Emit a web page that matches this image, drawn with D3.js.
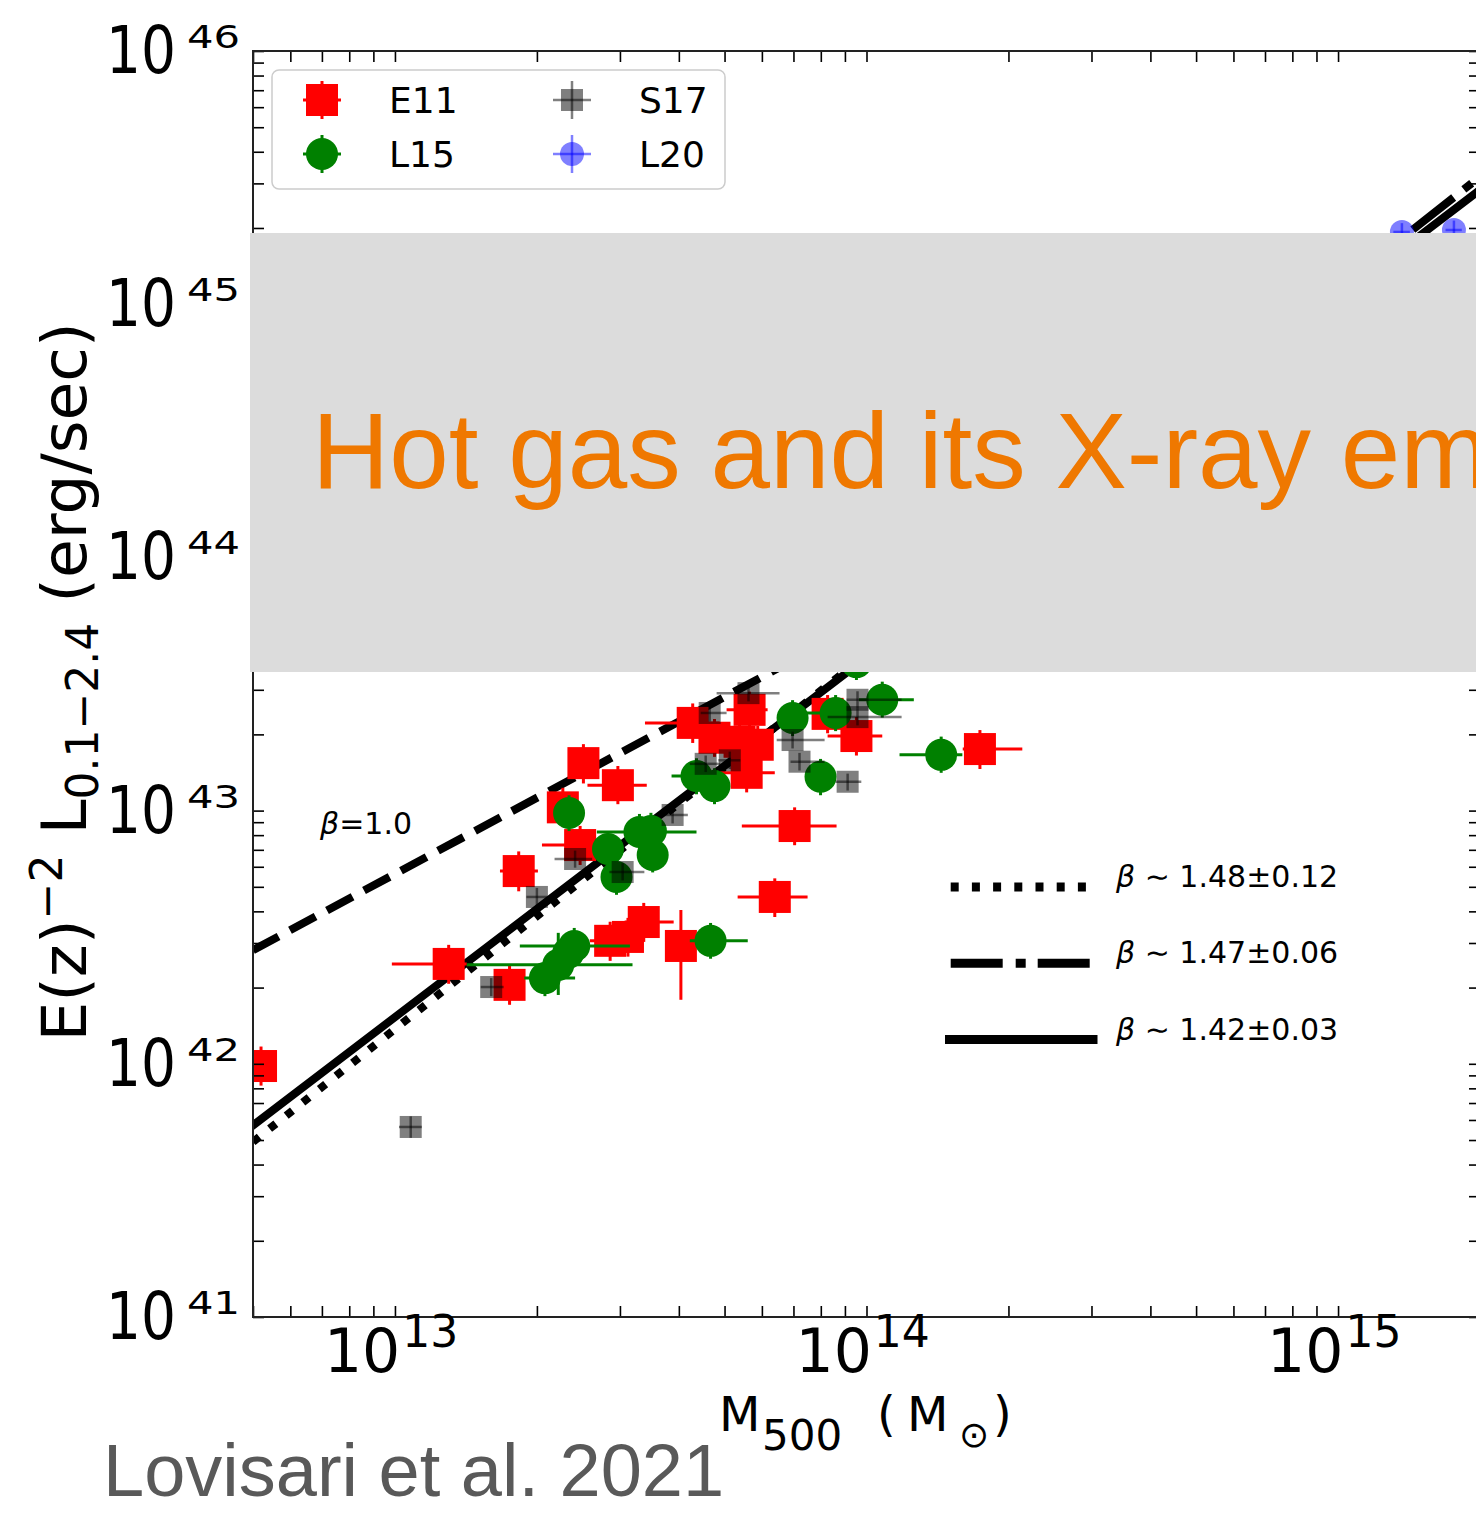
<!DOCTYPE html>
<html>
<head>
<meta charset="utf-8">
<title>Lx - M500</title>
<script src="https://cdn.jsdelivr.net/npm/d3@7/dist/d3.min.js"></script>
<style>
  body { margin: 0; background: #fff; }
  svg { display: block; }
</style>
</head>
<body>
<svg id="chart" width="1476" height="1513"></svg>
<script>
// data: M in 1e13 Msun, L in 1e42 erg/s
// row: [M, L, Mlow, Mhigh, Llow, Lhigh]
const e11 = [
    [4.28, 22.2, 3.39, 4.88, 18.5, 26.5],
    [2.51, 15.4, 2.35, 2.68, 12.8, 18.3],
    [2.97, 12.6, 2.56, 3.42, 10.6, 15.0],
    [2.27, 10.3, 2.12, 2.43, 8.6, 12.3],
    [2.47, 7.31, 2.05, 2.68, 6.1, 8.7],
    [1.83, 5.77, 1.67, 2.01, 4.8, 6.9],
    [1.30, 2.48, 0.985, 1.42, 2.07, 2.95],
    [1.75, 2.05, 1.64, 1.87, 1.71, 2.44],
    [2.86, 3.06, 2.59, 3.05, 2.55, 3.64],
    [3.12, 3.17, 2.95, 3.30, 2.65, 3.77],
    [3.37, 3.63, 3.07, 3.90, 3.03, 4.32],
    [4.04, 2.92, 3.80, 4.28, 1.79, 4.05],
    [0.52, 0.98, 0.49, 0.56, 0.82, 1.17],
    [5.65, 25.0, 5.05, 6.17, 21.0, 29.5],
    [4.76, 19.4, 4.45, 5.10, 16.3, 23.0],
    [5.38, 18.7, 5.05, 5.75, 15.6, 22.2],
    [5.88, 18.2, 5.50, 6.25, 15.2, 21.6],
    [5.57, 14.1, 4.88, 6.39, 11.8, 16.7],
    [8.27, 24.1, 7.80, 8.75, 20.2, 28.6],
    [9.52, 19.7, 8.27, 10.8, 16.5, 23.4],
    [17.4, 17.5, 16.0, 21.4, 14.6, 20.8],
    [7.04, 8.69, 5.44, 8.64, 7.3, 10.3],
    [6.39, 4.56, 5.33, 7.50, 3.8, 5.4]
];
const l15 = [
    [2.34, 9.78, 2.20, 2.48, 8.3, 11.5],
    [2.83, 7.05, 2.65, 3.02, 6.0, 8.3],
    [2.95, 5.47, 2.76, 3.15, 4.65, 6.45],
    [3.30, 8.23, 2.68, 4.36, 7.0, 9.7],
    [3.49, 8.31, 3.27, 3.73, 7.05, 9.8],
    [3.52, 6.68, 3.30, 3.76, 5.7, 7.9],
    [4.36, 13.7, 3.86, 4.88, 11.6, 16.1],
    [2.08, 2.18, 1.88, 2.41, 1.85, 2.57],
    [2.22, 2.46, 1.42, 3.19, 1.87, 3.29],
    [2.33, 2.74, 2.18, 2.49, 2.33, 3.23],
    [2.40, 2.92, 1.84, 3.15, 2.48, 3.44],
    [4.67, 3.06, 4.22, 5.60, 2.6, 3.6],
    [4.76, 12.5, 4.45, 5.10, 10.6, 14.7],
    [6.97, 23.2, 6.52, 7.45, 19.7, 27.3],
    [8.60, 24.3, 7.40, 9.20, 20.6, 28.6],
    [10.8, 27.4, 9.64, 12.6, 23.3, 32.3],
    [7.99, 13.6, 7.47, 8.54, 11.5, 16.0],
    [14.4, 16.6, 11.75, 15.97, 14.1, 19.6],
    [9.52, 38.6, 8.9, 10.2, 32.8, 45.5]
];
const s17 = [
    [1.08, 0.563, 1.02, 1.14, 0.51, 0.62],
    [1.60, 2.01, 1.52, 1.70, 1.85, 2.18],
    [2.00, 4.56, 1.90, 2.10, 4.2, 4.95],
    [2.41, 6.44, 2.18, 2.62, 5.95, 6.95],
    [3.04, 5.72, 2.85, 3.38, 5.3, 6.2],
    [3.88, 9.61, 3.65, 4.18, 8.9, 10.4],
    [5.62, 29.1, 4.81, 6.54, 27.0, 31.5],
    [4.65, 24.3, 4.45, 5.05, 22.5, 26.2],
    [4.56, 15.3, 4.22, 4.90, 14.2, 16.5],
    [5.13, 15.8, 4.85, 5.40, 14.6, 17.1],
    [6.97, 19.0, 6.45, 8.15, 17.6, 20.5],
    [7.21, 15.6, 6.90, 8.15, 14.4, 16.9],
    [9.12, 13.0, 8.60, 9.75, 12.0, 14.0],
    [9.57, 27.4, 9.07, 11.87, 25.3, 29.6],
    [9.57, 23.4, 8.27, 11.87, 21.7, 25.3]
];
const l20 = [
    [136.6, 1929, 131, 142, 1780, 2090],
    [176.1, 1964, 169, 183, 1800, 2140]
];
const seriesNames = ["E11", "L15", "S17", "L20"];

// fit lines: slope, L at M = 1e14 (1e42 erg/s), M range (1e13 Msun)
const fitNames = ["self", "dotted", "dashdot", "solid"];
const fitBeta = [1.0, 1.48, 1.47, 1.42];
const fitPivotL = [56.2, 41.4, 39.0, 40.2];
const fitRange = [[0.5, 200], [0.5, 30], [10, 200], [0.5, 200]];
const fitLabels = ["1.48±0.12", "1.47±0.06", "1.42±0.03"];

const xTickExps = [13, 14, 15];
const yTickExps = [41, 42, 43, 44, 45, 46];

const MU = 1e13, LU = 1e42;
const font = "DejaVu Sans, Verdana, sans-serif";

const styles = {
    E11: { color: "#ff0000", alpha: 1, shape: "square", size: 32, bar: 3 },
    L15: { color: "#008000", alpha: 1, shape: "circle", size: 32, bar: 3 },
    S17: { color: "#000000", alpha: 0.5, shape: "square", size: 22, bar: 2.5 },
    L20: { color: "#0000ff", alpha: 0.5, shape: "circle", size: 24, bar: 2.5 }
};
const lineStyles = {
    self: "29,13",
    dotted: "8,13.2",
    dashdot: "52,13,10,12",
    solid: null
};

const svg = d3.select("#chart");
const box = { left: 253, right: 1480, top: 51, bottom: 1317 };

const x = d3.scaleLog().domain([5e12, 2e15]).range([box.left, box.right]);
const y = d3.scaleLog().domain([1e41, 1e46]).range([box.bottom, box.top]);

svg.append("rect").attr("width", 1476).attr("height", 1513).attr("fill", "#fff");

svg.append("defs").append("clipPath").attr("id", "plotClip")
    .append("rect")
    .attr("x", box.left).attr("y", box.top)
    .attr("width", box.right - box.left).attr("height", box.bottom - box.top);

const plot = svg.append("g").attr("clip-path", "url(#plotClip)");

// fit lines
const line = d3.line().x(d => x(d[0] * MU)).y(d => y(d[1] * LU));
fitNames.forEach((name, i) => {
    const pts = fitRange[i].map(m => [m, fitPivotL[i] * Math.pow(m / 10, fitBeta[i])]);
    plot.append("path")
        .attr("d", line(pts))
        .attr("fill", "none")
        .attr("stroke", "#000")
        .attr("stroke-width", 8)
        .attr("stroke-dasharray", lineStyles[name])
        .attr("stroke-linecap", name === "solid" ? "square" : "butt");
});

// data points: error bars first, then markers
function drawMarker(g, cx, cy, st) {
    if (st.shape === "square") {
        g.append("rect")
            .attr("x", cx - st.size / 2).attr("y", cy - st.size / 2)
            .attr("width", st.size).attr("height", st.size)
            .attr("fill", st.color).attr("fill-opacity", st.alpha);
    } else {
        g.append("circle")
            .attr("cx", cx).attr("cy", cy).attr("r", st.size / 2)
            .attr("fill", st.color).attr("fill-opacity", st.alpha);
    }
}

function drawBar(g, x1, y1, x2, y2, st) {
    g.append("line")
        .attr("x1", x1).attr("y1", y1).attr("x2", x2).attr("y2", y2)
        .attr("stroke", st.color).attr("stroke-opacity", st.alpha)
        .attr("stroke-width", st.bar);
}

function drawSeries(rows, st) {
    const g = plot.append("g");
    rows.forEach(d => {
        const cx = x(d[0] * MU), cy = y(d[1] * LU);
        drawBar(g, x(d[2] * MU), cy, x(d[3] * MU), cy, st);
        drawBar(g, cx, y(d[4] * LU), cx, y(d[5] * LU), st);
    });
    rows.forEach(d => drawMarker(g, x(d[0] * MU), y(d[1] * LU), st));
}

[e11, l15, s17, l20].forEach((rows, i) => drawSeries(rows, styles[seriesNames[i]]));

// ticks on all four sides, pointing in
function logTicks(scale) {
    const [a, b] = scale.domain();
    const out = [];
    for (let e = Math.floor(Math.log10(a)); e <= Math.ceil(Math.log10(b)); e++) {
        for (let k = 1; k < 10; k++) {
            const v = k * Math.pow(10, e);
            if (v >= a * 0.999 && v <= b * 1.001) out.push(v);
        }
    }
    return out;
}

[["axisBottom", x, `translate(0,${box.bottom})`],
 ["axisTop", x, `translate(0,${box.top})`],
 ["axisLeft", y, `translate(${box.left},0)`],
 ["axisRight", y, `translate(${box.right},0)`]].forEach(([fn, sc, tr]) => {
    const g = svg.append("g").attr("transform", tr)
        .call(d3[fn](sc).tickValues(logTicks(sc)).tickSize(-11).tickSizeOuter(0).tickFormat(""));
    g.select(".domain").remove();
    g.selectAll(".tick line").attr("stroke", "#000").attr("stroke-width", 1.6);
});

svg.append("rect")
    .attr("x", box.left).attr("y", box.top)
    .attr("width", box.right - box.left).attr("height", box.bottom - box.top)
    .attr("fill", "none").attr("stroke", "#222").attr("stroke-width", 2);

// y tick labels 10^n
function powLabel(px, py, exp, p) {
    const g = svg.append("g").attr("font-family", font).attr("fill", "#000");
    g.append("text")
        .attr("x", px + p.bx).attr("y", py + p.by)
        .attr("font-size", p.bs)
        .attr("textLength", p.bw).attr("lengthAdjust", "spacingAndGlyphs")
        .text("10");
    g.append("text")
        .attr("x", px + p.sx).attr("y", py + p.sy)
        .attr("font-size", p.ss)
        .attr("textLength", p.sw).attr("lengthAdjust", "spacingAndGlyphs")
        .text(exp);
}

const yLab = { bx: 0, by: 22, bs: 66, bw: 70, sx: 81, sy: -3, ss: 32, sw: 53 };
yTickExps.forEach(e => powLabel(106, y(Math.pow(10, e)), e, yLab));

// x tick labels 10^n, one text each
xTickExps.forEach(e => {
    const t = svg.append("text")
        .attr("x", x(Math.pow(10, e)) - 71).attr("y", 1372)
        .attr("font-family", font).attr("font-size", 60).attr("fill", "#000");
    t.append("tspan").text("10");
    t.append("tspan").attr("font-size", 44).attr("dx", 2).attr("dy", -25).text(e);
});

// axis titles
const xTitle = svg.append("text")
    .attr("font-family", font).attr("fill", "#000").attr("font-size", 48);
xTitle.append("tspan").attr("x", 719).attr("y", 1431).text("M");
xTitle.append("tspan").attr("x", 762).attr("y", 1450).attr("font-size", 42).text("500");
xTitle.append("tspan").attr("x", 877).attr("y", 1431).text("(");
xTitle.append("tspan").attr("x", 907).attr("y", 1431).text("M");
xTitle.append("tspan").attr("x", 959).attr("y", 1447).attr("font-size", 36).text("\u2299");
xTitle.append("tspan").attr("x", 993).attr("y", 1431).text(")");

const yTitle = svg.append("text")
    .attr("transform", "translate(86,682) rotate(-90)")
    .attr("text-anchor", "middle")
    .attr("font-family", font)
    .attr("font-size", 63)
    .attr("fill", "#000");
yTitle.append("tspan").text("E(z)");
yTitle.append("tspan").attr("font-size", 44).attr("dy", -24).text("\u22122");
yTitle.append("tspan").attr("dy", 24).text(" L");
yTitle.append("tspan").attr("font-size", 44).attr("dy", 12).text("0.1\u22122.4");
yTitle.append("tspan").attr("dy", -12).text(" (erg/sec)");

// beta = 1 label
const selfLab = svg.append("text")
    .attr("x", 320).attr("y", 834)
    .attr("font-family", font).attr("font-size", 30).attr("fill", "#000");
selfLab.append("tspan").attr("font-style", "italic").text("β");
selfLab.append("tspan").text("=1.0");

// fit legend (lower right)
const fitKey = svg.append("g");
["dotted", "dashdot", "solid"].forEach((name, i) => {
    const yy = 887 + i * 76.3;
    fitKey.append("line")
        .attr("x1", name === "solid" ? 949.5 : 950.7).attr("x2", name === "solid" ? 1093 : 1092.5)
        .attr("y1", yy).attr("y2", yy)
        .attr("stroke", "#000").attr("stroke-width", 9)
        .attr("stroke-dasharray", lineStyles[name])
        .attr("stroke-linecap", name === "solid" ? "square" : "butt");
    const t = fitKey.append("text")
        .attr("x", 1116).attr("y", yy)
        .attr("font-family", font).attr("font-size", 30).attr("fill", "#000");
    t.append("tspan").attr("font-style", "italic").text("β");
    t.append("tspan").text(" \u223C " + fitLabels[i]);
});

// series legend (upper left)
const leg = svg.append("g");
leg.append("rect")
    .attr("x", 272).attr("y", 70).attr("width", 453).attr("height", 119)
    .attr("rx", 7)
    .attr("fill", "#fff").attr("fill-opacity", 0.85)
    .attr("stroke", "#cccccc").attr("stroke-width", 1.5);
const legPos = [[322, 100], [322, 154], [572, 100], [572, 154]];
seriesNames.forEach((name, i) => {
    const st = styles[name];
    const [cx, cy] = legPos[i];
    drawBar(leg, cx - 19, cy, cx + 19, cy, st);
    drawBar(leg, cx, cy - 19, cx, cy + 19, st);
    drawMarker(leg, cx, cy, st);
    leg.append("text")
        .attr("x", cx + 67).attr("y", cy + 13)
        .attr("font-family", font).attr("font-size", 36).attr("fill", "#000")
        .text(name);
});

// slide overlay
svg.append("rect")
    .attr("x", 250).attr("y", 233).attr("width", 1226).attr("height", 439)
    .attr("fill", "#dcdcdc");
svg.append("text")
    .attr("x", 312).attr("y", 488)
    .attr("font-family", "Liberation Sans, Helvetica, Arial, sans-serif")
    .attr("font-size", 107).attr("fill", "#ef7800")
    .text("Hot gas and its X-ray emission");
svg.append("text")
    .attr("x", 103).attr("y", 1496)
    .attr("font-family", "Liberation Sans, Helvetica, Arial, sans-serif")
    .attr("font-size", 74).attr("fill", "#595959")
    .text("Lovisari et al. 2021");
</script>
</body>
</html>
